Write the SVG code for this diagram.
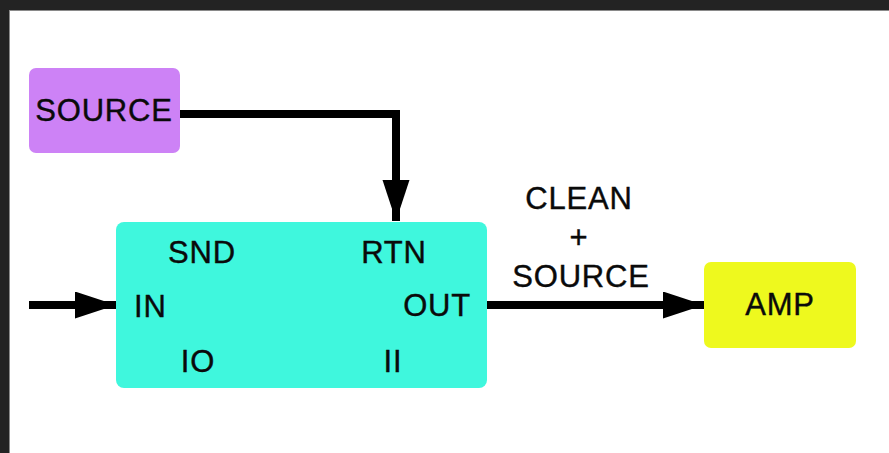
<svg xmlns="http://www.w3.org/2000/svg" width="889" height="453" viewBox="0 0 889 453">
  <style>
    text { font-family: "Liberation Sans", Arial, sans-serif; font-size: 31px; fill: #0a0a0a; stroke: #0a0a0a; stroke-width: 0.4; letter-spacing: 0.8px; }
    .wire { fill: none; stroke: #000; stroke-width: 8; }
  </style>
  <defs>
    <marker id="arrow" markerUnits="userSpaceOnUse" markerWidth="44" markerHeight="28" refX="41" refY="13.5" orient="auto">
      <path d="M0,0 L41,13.5 L0,27 Z" fill="#000"/>
    </marker>
  </defs>

  <!-- window frame -->
  <rect x="0" y="0" width="889" height="453" fill="#232323"/>
  <rect x="9" y="10" width="880" height="443" fill="#ffffff"/>
  <line x1="9" y1="10.5" x2="889" y2="10.5" stroke="#8a8a8a" stroke-width="1"/>
  <line x1="9.5" y1="10" x2="9.5" y2="453" stroke="#8a8a8a" stroke-width="1"/>

  <g id="connectors">
    <path class="wire" d="M180,114 H396 V221" marker-end="url(#arrow)"/>
    <path class="wire" d="M29,305 H116" stroke-width="6" marker-end="url(#arrow)"/>
    <path class="wire" d="M487,305 H704" marker-end="url(#arrow)"/>
    <g id="label-out">
      <text x="579" y="209" text-anchor="middle">CLEAN</text>
      <text x="579" y="248" text-anchor="middle">+</text>
      <text x="581" y="287" text-anchor="middle">SOURCE</text>
    </g>
  </g>

  <g id="source">
    <rect x="29" y="68" width="151" height="85" rx="7" fill="#cd82f6"/>
    <text x="104" y="121" text-anchor="middle">SOURCE</text>
  </g>

  <g id="block">
    <rect x="116" y="222" width="371" height="166" rx="8" fill="#3ff7dd"/>
    <text x="202" y="263" text-anchor="middle">SND</text>
    <text x="394" y="263" text-anchor="middle">RTN</text>
    <text x="134" y="317">IN</text>
    <text x="471" y="316" text-anchor="end">OUT</text>
    <text x="198" y="372" text-anchor="middle">IO</text>
    <text x="393" y="372" text-anchor="middle">II</text>
  </g>

  <g id="amp">
    <rect x="704" y="262" width="152" height="86" rx="7" fill="#eef91e"/>
    <text x="780" y="315" text-anchor="middle">AMP</text>
  </g>
</svg>
